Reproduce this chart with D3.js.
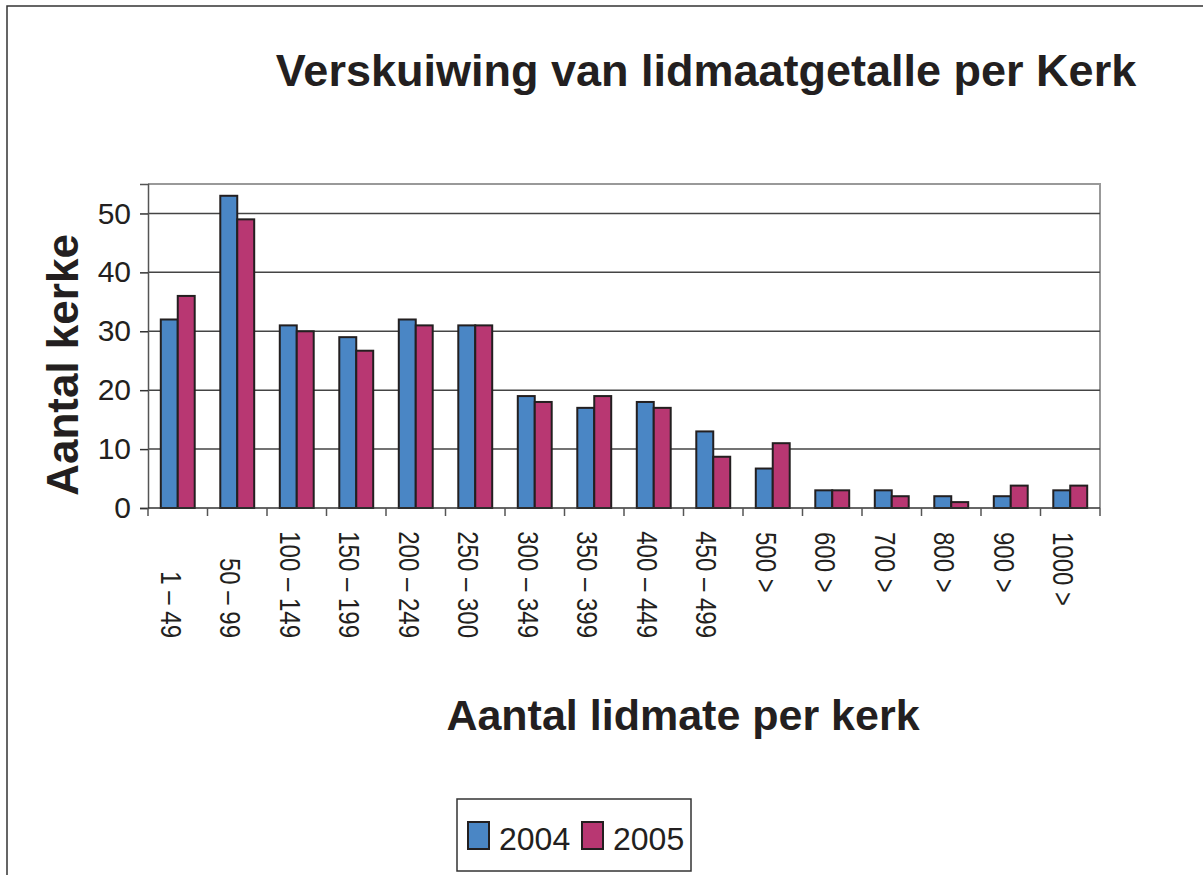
<!DOCTYPE html>
<html lang="en">
<head>
    <meta charset="UTF-8">
    <title>Verskuiwing van lidmaatgetalle per Kerk</title>
    <style>
        body { margin: 0; background: #fff; }
        text { font-family: "Liberation Sans", Arial, sans-serif; fill: #231f20; }
        .grid line { stroke: #444; stroke-width: 1.5; }
        .bar { stroke: #231f20; stroke-width: 2; }
    </style>
</head>
<body>
    <div id="chart"></div>

    <script src="https://d3js.org/d3.v7.min.js"></script>
    <script>
        const categories = ["1 – 49", "50 – 99", "100 – 149", "150 – 199", "200 – 249", "250 – 300",
            "300 – 349", "350 – 399", "400 – 449", "450 – 499", "500 >", "600 >", "700 >",
            "800 >", "900 >", "1000 >"];
        const years = ["2004", "2005"];
        const values2004 = [32, 53, 31, 29, 32, 31, 19, 17, 18, 13, 6.7, 3, 3, 2, 2, 3];
        const values2005 = [36, 49, 30, 26.7, 31, 31, 18, 19, 17, 8.7, 11, 3, 2, 1, 3.8, 3.8];
        const yTicks = [0, 10, 20, 30, 40, 50];

        const colors = { "2004": "#4a86c5", "2005": "#b83772" };

        const width = 1203;
        const height = 875;
        const plot = { left: 148, right: 1100, top: 184, bottom: 508 };

        const svg = d3.select("#chart")
            .append("svg")
            .attr("width", width)
            .attr("height", height);

        // outer frame (runs off the right and bottom edge)
        svg.append("rect")
            .attr("x", 7).attr("y", 6)
            .attr("width", width + 20).attr("height", height + 20)
            .attr("fill", "none").attr("stroke", "#333").attr("stroke-width", 1.5);

        const x = d3.scaleBand()
            .domain(categories)
            .range([plot.left, plot.right])
            .paddingInner(0.43)
            .paddingOuter(0.215);

        const xSub = d3.scaleBand()
            .domain(years)
            .range([0, x.bandwidth()]);

        const y = d3.scaleLinear()
            .domain([0, 55])
            .range([plot.bottom, plot.top]);

        // plot frame top/right
        svg.append("path")
            .attr("d", `M${plot.left},${plot.top}H${plot.right}V${plot.bottom}`)
            .attr("fill", "none").attr("stroke", "#999").attr("stroke-width", 2);

        // gridlines
        svg.append("g")
            .attr("class", "grid")
            .selectAll("line")
            .data(yTicks.filter(d => d > 0))
            .enter()
            .append("line")
            .attr("x1", plot.left).attr("x2", plot.right)
            .attr("y1", d => y(d)).attr("y2", d => y(d));

        // bars
        const rows = categories.map((c, i) => ({ cat: c, vals: [values2004[i], values2005[i]] }));
        const groups = svg.selectAll(".group")
            .data(rows)
            .enter()
            .append("g")
            .attr("transform", d => `translate(${x(d.cat)},0)`);

        groups.selectAll("rect")
            .data(d => years.map((yr, j) => ({ yr: yr, v: d.vals[j] })))
            .enter()
            .append("rect")
            .attr("class", "bar")
            .attr("x", d => xSub(d.yr))
            .attr("y", d => y(d.v))
            .attr("width", xSub.bandwidth())
            .attr("height", d => y(0) - y(d.v))
            .attr("fill", d => colors[d.yr]);

        // y axis
        const yAxis = svg.append("g")
            .attr("transform", `translate(${plot.left},0)`)
            .call(d3.axisLeft(y).tickValues(yTicks).tickSize(8).tickPadding(9));
        yAxis.select(".domain").attr("stroke", "#555").attr("stroke-width", 1.5);
        yAxis.selectAll(".tick line").attr("stroke", "#333").attr("stroke-width", 1.5);
        yAxis.selectAll(".tick text")
            .style("font-size", "30px")
            .attr("fill", "#231f20");

        // x axis
        const xEdges = d3.scaleLinear().domain([0, categories.length]).range([plot.left, plot.right]);
        const xAxis = svg.append("g")
            .attr("transform", `translate(0,${plot.bottom})`);
        xAxis.append("line")
            .attr("x1", plot.left).attr("x2", plot.right)
            .attr("stroke", "#333").attr("stroke-width", 1.5);
        xAxis.selectAll(".xtick")
            .data(d3.range(categories.length + 1))
            .enter()
            .append("line")
            .attr("x1", d => xEdges(d)).attr("x2", d => xEdges(d))
            .attr("y1", 0).attr("y2", 8)
            .attr("stroke", "#555").attr("stroke-width", 1.5);

        svg.selectAll(".xlabel")
            .data(categories)
            .enter()
            .append("text")
            .attr("class", "xlabel")
            .attr("transform", d => {
                const cx = x(d) + x.bandwidth() / 2 - 6;
                const cy = d.includes("–") ? 638 : 532;
                return `translate(${cx},${cy}) rotate(90) scale(0.8,1)`;
            })
            .attr("text-anchor", d => d.includes("–") ? "end" : "start")
            .attr("dy", "0.36em")
            .style("font-size", "30px")
            .text(d => d);

        // titles
        svg.append("text")
            .attr("x", 706).attr("y", 86)
            .attr("text-anchor", "middle")
            .style("font-size", "45px").style("font-weight", "bold")
            .text("Verskuiwing van lidmaatgetalle per Kerk");

        svg.append("text")
            .attr("transform", "translate(78,365) rotate(-90)")
            .attr("text-anchor", "middle")
            .style("font-size", "44px").style("font-weight", "bold")
            .text("Aantal kerke");

        svg.append("text")
            .attr("x", 683).attr("y", 730)
            .attr("text-anchor", "middle")
            .style("font-size", "43px").style("font-weight", "bold")
            .text("Aantal lidmate per kerk");

        // legend
        const legend = svg.append("g").attr("transform", "translate(457,799)");
        legend.append("rect")
            .attr("width", 234).attr("height", 72)
            .attr("fill", "#fff").attr("stroke", "#333").attr("stroke-width", 1.5);
        const legendX = d3.scaleOrdinal().domain(years).range([11, 125]);
        years.forEach(yr => {
            legend.append("rect")
                .attr("x", legendX(yr)).attr("y", 23)
                .attr("width", 21).attr("height", 27)
                .attr("fill", colors[yr]).attr("stroke", "#231f20").attr("stroke-width", 2);
            legend.append("text")
                .attr("x", legendX(yr) + 31).attr("y", 51)
                .style("font-size", "32px")
                .text(yr);
        });
    </script>
</body>
</html>
